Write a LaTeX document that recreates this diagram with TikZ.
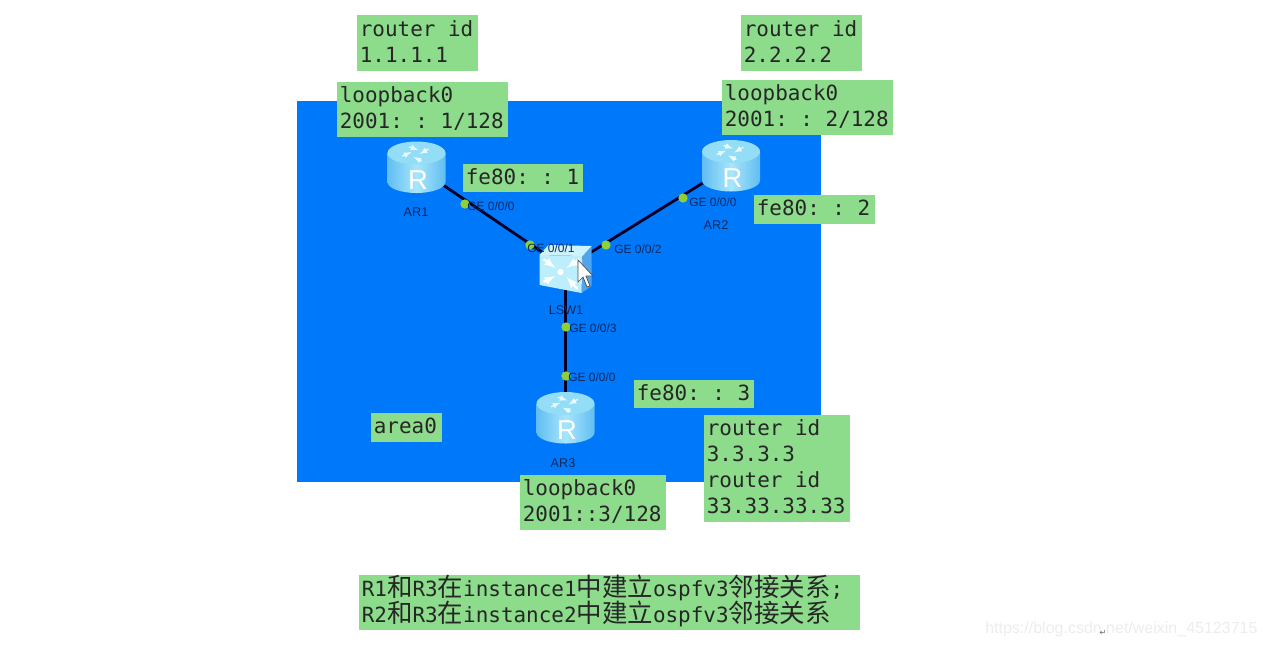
\documentclass[tikz,border=0pt]{standalone}
\usepackage{fontspec}
\setmainfont{Liberation Sans}
\newfontfamily\monof{DejaVu Sans Mono}
\newfontfamily\cjkf{Noto Sans CJK SC}
\newfontfamily\symf{DejaVu Sans}
\usetikzlibrary{calc}
\definecolor{areablue}{HTML}{0078FA}
\definecolor{notegreen}{HTML}{8CDC8C}
\definecolor{portgreen}{HTML}{8FD03A}
\definecolor{labelblue}{HTML}{12285F}
\definecolor{iconlight}{HTML}{A8E6FB}
\definecolor{icondark}{HTML}{62BDF2}
\definecolor{icontop}{HTML}{93DDF6}
\definecolor{swfront}{HTML}{BCEEFC}
\definecolor{swtop}{HTML}{CDF3FC}
\definecolor{swside}{HTML}{4FA6EE}
\newcommand{\cjk}[1]{{\cjkf\fontsize{19.1}{19.5}\selectfont #1}}
\tikzset{
  x=0.75pt,y=-0.75pt,
  note/.style={anchor=north west,fill=notegreen,inner sep=0pt,outer sep=0pt},
  notetext/.style={anchor=west,inner sep=0pt,align=left,font=\monof\frenchspacing\fontsize{15.7}{19.5}\selectfont,text=black!85},
  port/.style={circle,fill=portgreen,inner sep=0pt,minimum size=7pt},
  portlabel/.style={font=\fontsize{9}{10}\selectfont,text=labelblue,anchor=west,inner sep=0pt},
  devlabel/.style={font=\fontsize{9.5}{10}\selectfont,text=labelblue,inner sep=0pt},
  link/.style={line width=2.1pt,draw=black!85!blue},
  anchorbox/.style={inner sep=0pt,minimum size=1pt},
  topmark/.style={white,line width=1pt,opacity=.8,-latex,line cap=round},
  swmark/.style={white,line width=1.8pt,-latex,opacity=.95},
}
% router icon centred at #1 (node name)
\newcommand{\routericon}[1]{%
  \begin{scope}[shift={(#1)}]
    \shade[left color=icondark,right color=icondark,middle color=iconlight]
      (-29,-14) -- (-29,15) arc[x radius=29,y radius=11,start angle=180,end angle=0] -- (29,-14) -- cycle;
    \fill[icontop] (0,-14) ellipse[x radius=29,y radius=11.5];
    \draw[topmark] (-14,-11) -- (-5,-15);
    \draw[topmark] (-7,-20) -- (2,-17);
    \draw[topmark] (12,-18) -- (3,-13);
    \draw[topmark] (5,-6) -- (-3,-10);
    \node[inner sep=0pt,text=white,font=\fontsize{20.5}{22}\selectfont] at (1.5,13) {R};
  \end{scope}}
\newcommand{\noteat}[6]{% name x0 y0 x1 y1 text
  \node[note,minimum width={(#4-#2)*0.75pt},minimum height={(#5-#3)*0.75pt}] (#1) at (#2,#3) {};
  \node[notetext] at ($(#1.west)+(2.6,-1.5)$) {#6};}
\begin{document}
\begin{tikzpicture}
\useasboundingbox (0,0) rectangle (1266,647);
\fill[white] (0,0) rectangle (1266,647);
\fill[areablue] (297,101) rectangle (821,482);
% device anchors
\node[anchorbox] (ar1) at (416.5,167) {};
\node[anchorbox] (ar2) at (731,165.5) {};
\node[anchorbox] (ar3) at (565.5,417.5) {};
\node[anchorbox] (lsw) at (565.5,268) {};
% links
\draw[link] (ar1) -- (lsw);
\draw[link] (ar2) -- (lsw);
\draw[link] (ar3) -- (lsw);
% icons
\routericon{ar1}
\routericon{ar2}
\routericon{ar3}
\begin{scope}[shift={(lsw)}]
  \fill[swside] (17,-12) -- (26,-22) -- (26,18) -- (16,25) -- cycle;
  \fill[swtop] (-26,-13) -- (-17,-23) -- (26,-22) -- (17,-12) -- cycle;
  \fill[swfront] (-26,-13) -- (17,-12) -- (16,25) -- (-26,17) -- cycle;
  \fill[white] (-5,4) circle (3.2);
  \draw[swmark] (-22,-9) -- (-10,0);
  \draw[swmark] (14,-9) -- (1,0);
  \draw[swmark] (-22,14) -- (-10,8);
  \draw[swmark] (12,21) -- (1,9);
\end{scope}
% cursor
\fill[white,draw=black!70,line width=.5pt] (578,260) -- (578,282) -- (583,277) -- (587,287) -- (590,286) -- (586,276) -- (593,276) -- cycle;
% device labels
\node[devlabel] (l1) at (416,212) {AR1};
\node[devlabel] (l2) at (716,225) {AR2};
\node[devlabel] (l3) at (563,463) {AR3};
\node[devlabel] (l4) at (566,310) {LSW1};
% ports
\node[port] (p1) at (465,204) {};
\node[port] (p2) at (530,245) {};
\node[port] (p3) at (606,245) {};
\node[port] (p4) at (683,198) {};
\node[port] (p5) at (566,327) {};
\node[port] (p6) at (566,376) {};
\node[portlabel] at (467,206) {GE 0/0/0};
\node[portlabel] at (527,248) {GE 0/0/1};
\node[portlabel] at (614,249) {GE 0/0/2};
\node[portlabel] at (689,202) {GE 0/0/0};
\node[portlabel] at (569,328) {GE 0/0/3};
\node[portlabel] at (568,377) {GE 0/0/0};
% notes
\noteat{n1}{357}{15}{478}{71}{router id\\1.1.1.1}
\noteat{n2}{741}{15}{862}{71}{router id\\2.2.2.2}
\noteat{n3}{337}{82}{508}{137}{loopback0\\2001: : 1/128}
\noteat{n4}{722}{80}{893}{135}{loopback0\\2001: : 2/128}
\noteat{n5}{463}{164}{583}{192}{fe80: : 1}
\noteat{n6}{754}{195}{875}{224}{fe80: : 2}
\noteat{n7}{634}{380}{754}{408}{fe80: : 3}
\noteat{n8}{371}{413}{442}{442}{area0}
\noteat{n9}{520}{475}{666}{530}{loopback0\\2001::3/128}
\noteat{n10}{704}{415}{850}{522}{router id\\3.3.3.3\\router id\\33.33.33.33}
\noteat{n11}{359}{575}{860}{630}{R1\cjk{和}R3\cjk{在}instance1\cjk{中建立}ospfv3\cjk{邻接关系};\\R2\cjk{和}R3\cjk{在}instance2\cjk{中建立}ospfv3\cjk{邻接关系}}
% watermark
\node[inner sep=0pt,anchor=west,text=black!7,font=\fontsize{12}{14}\selectfont] (wm) at (985,629) {https://blog.csdn.net/weixin\_45123715};
\node[inner sep=0pt,text=black!60,font=\symf\fontsize{6}{7}\selectfont] (ret) at (1103,633) {↵};
\end{tikzpicture}
\end{document}
